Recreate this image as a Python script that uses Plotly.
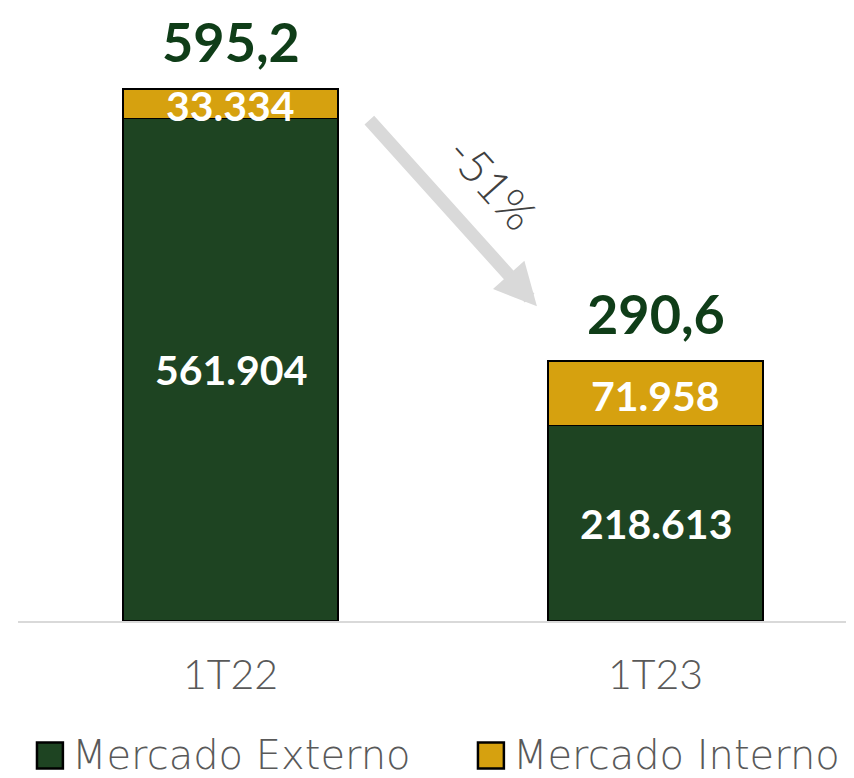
import plotly.graph_objects as go

# Values (thousand units)
periodos = ["1T22", "1T23"]
mercado_externo = [561.904, 218.613]
mercado_interno = [33.334, 71.958]
totais = ["595,2", "290,6"]
variacao = "-51%"
series = ["Mercado Externo", "Mercado Interno"]

verde = "#1E4422"
ouro = "#D6A10F"
verde_txt = "#0F3D18"
cores = [verde, ouro]

fig = go.Figure()

fig.add_trace(go.Bar(
    x=periodos,
    y=mercado_externo,
    name=series[0],
    marker=dict(color=verde, line=dict(color="#000000", width=1.5)),
    width=0.505,
))

fig.add_trace(go.Bar(
    x=periodos,
    y=mercado_interno,
    name=series[1],
    marker=dict(color=ouro, line=dict(color="#000000", width=1.5)),
    width=0.505,
))

# data labels inside the segments and totals on top
for i, p in enumerate(periodos):
    ext = mercado_externo[i]
    inn = mercado_interno[i]
    fig.add_annotation(x=p, y=ext / 2, text=f"{ext:.3f}",
                       showarrow=False,
                       font=dict(family="Lato", size=41, color="white", weight="bold"))
    fig.add_annotation(x=p, y=ext + inn / 2, text=f"{inn:.3f}",
                       showarrow=False, yshift=-2,
                       font=dict(family="Lato", size=41, color="white", weight="bold"))
    fig.add_annotation(x=p, y=ext + inn, text=totais[i],
                       showarrow=False, yanchor="bottom", yshift=13,
                       font=dict(family="Lato", size=54, color=verde_txt, weight="bold"))

# arrow showing the drop (grey outline, lighter shaft inside)
fig.add_annotation(
    x=0.721, y=352, ax=0.3235, ay=562,
    xref="x", yref="y", axref="x", ayref="y",
    text="", showarrow=True,
    arrowhead=2, arrowsize=0.65, arrowwidth=13, arrowcolor="#D9D9D9",
)
fig.add_shape(type="line", xref="x", yref="y",
              x0=0.3285, y0=557, x1=0.66, y1=384,
              line=dict(color="#F2F2F2", width=5))
fig.add_annotation(
    x=0.615, y=490, text=variacao, showarrow=False, textangle=48,
    font=dict(family="Lato", size=46, color="#404040", weight=300),
)

# legend drawn by hand so the square keys match the original size
leg_x = [0.0227, 0.5502]
for i, nome in enumerate(series):
    fig.add_shape(type="rect", xref="paper", yref="paper",
                  x0=leg_x[i], x1=leg_x[i] + 0.031, y0=-0.2405, y1=-0.1981,
                  fillcolor=cores[i], line=dict(color="#000000", width=2.5))
    fig.add_annotation(x=leg_x[i] + 0.039, y=-0.2185, xref="paper", yref="paper",
                       xanchor="left", yanchor="middle", showarrow=False,
                       text=nome,
                       font=dict(family="DejaVu Sans", size=40, color="#595959", weight=200))

# the page body has an 8px margin, so the figure is sized to fill the rest
fig.update_layout(
    width=846,
    height=770,
    barmode="stack",
    plot_bgcolor="white",
    paper_bgcolor="white",
    margin=dict(l=10, r=0, t=0, b=157, autoexpand=False),
    showlegend=False,
    xaxis=dict(
        range=[-0.5, 1.467],
        showline=True, linecolor="#D9D9D9", linewidth=2,
        ticks="outside", ticklen=17, tickcolor="rgba(0,0,0,0)",
        tickfont=dict(family="Lato", size=41, color="#595959", weight=300),
        showgrid=False,
    ),
    yaxis=dict(
        range=[0, 685.7],
        visible=False,
        showgrid=False,
    ),
)

fig.write_html("out.html")
